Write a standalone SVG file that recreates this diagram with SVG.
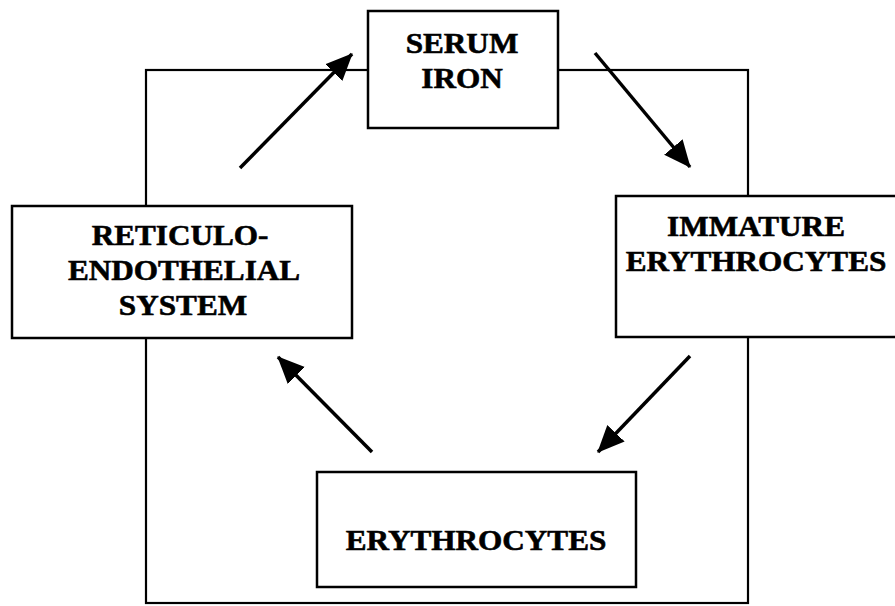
<svg xmlns="http://www.w3.org/2000/svg" width="895" height="606" viewBox="0 0 895 606">
<style>
.box{fill:#fff;stroke:#000;stroke-width:2.5}
.loop{fill:none;stroke:#000;stroke-width:2.2}
.arr{stroke:#000;stroke-width:3.5;fill:none;marker-end:url(#ah)}
.lbl{font-family:"Liberation Serif","Times New Roman",serif;font-weight:bold;font-size:30px;text-anchor:middle;fill:#000;stroke:#000;stroke-width:0.6}
</style>
<defs>
<marker id="ah" markerUnits="userSpaceOnUse" markerWidth="28" markerHeight="26" viewBox="0 0 28 26" refX="26" refY="13" orient="auto">
<path d="M0,1 L27,13 L0,25 Z" fill="#000"/>
</marker>
</defs>
<rect width="895" height="606" fill="#fff"/>
<g id="connectors">
<rect class="loop" x="146" y="70" width="602" height="533"/>
<line class="arr" x1="240" y1="168" x2="352" y2="54"/>
<line class="arr" x1="595" y1="53" x2="690" y2="167"/>
<line class="arr" x1="690" y1="356" x2="598" y2="452"/>
<line class="arr" x1="372" y1="452" x2="278" y2="357"/>
</g>
<g id="serum-iron">
<rect class="box" x="368" y="11" width="190" height="117"/>
<text class="lbl" transform="translate(462,53) scale(1.04,1)">SERUM</text>
<text class="lbl" transform="translate(462,88) scale(1.04,1)">IRON</text>
</g>
<g id="immature-erythrocytes">
<rect class="box" x="616" y="196" width="290" height="141"/>
<text class="lbl" transform="translate(756,236) scale(1.04,1)">IMMATURE</text>
<text class="lbl" transform="translate(756,271) scale(1.04,1)">ERYTHROCYTES</text>
</g>
<g id="reticulo-endothelial-system">
<rect class="box" x="12" y="206" width="340" height="132"/>
<text class="lbl" transform="translate(180,245) scale(1.04,1)">RETICULO-</text>
<text class="lbl" transform="translate(184,280) scale(1.04,1)">ENDOTHELIAL</text>
<text class="lbl" transform="translate(183,315) scale(1.04,1)">SYSTEM</text>
</g>
<g id="erythrocytes">
<rect class="box" x="317" y="472" width="319" height="115"/>
<text class="lbl" transform="translate(476,550) scale(1.04,1)">ERYTHROCYTES</text>
</g>
</svg>
